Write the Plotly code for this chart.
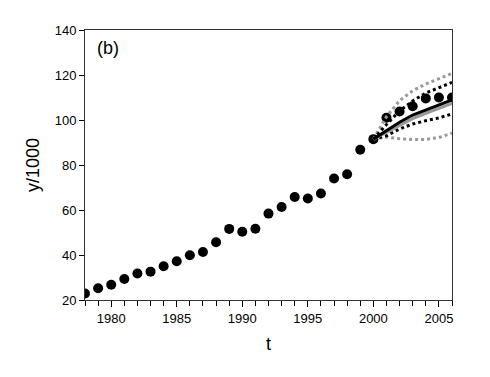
import plotly.graph_objects as go

# observed series (y/1000)
years = list(range(1978, 2007))
observed = [22.9, 25.2, 26.8, 29.3, 31.8, 32.6, 35.0, 37.2, 39.9, 41.3, 45.7,
            51.6, 50.3, 51.7, 58.4, 61.3, 65.8, 65.1, 67.3, 74.0, 75.9, 86.8,
            91.5, 101.0, 103.8, 106.1, 109.6, 110.0, 110.0]

# forecasts from 2000
fc_years = list(range(2000, 2007))
fc_mean_black = [91.5, 95.3, 99.0, 102.2, 104.4, 106.6, 108.9]
fc_mean_gray = [91.5, 94.5, 97.8, 100.6, 103.0, 105.3, 107.4]
band_black_hi = [91.5, 98.0, 104.0, 108.5, 112.0, 114.5, 116.7]
band_black_lo = [91.5, 93.0, 96.0, 98.2, 99.7, 100.9, 102.7]
band_gray_hi = [91.5, 101.5, 108.6, 113.0, 116.0, 118.2, 120.7]
band_gray_lo = [91.5, 92.4, 91.7, 91.3, 91.4, 92.2, 94.2]

x_ticks = [1980, 1985, 1990, 1995, 2000, 2005]
y_ticks = [20, 40, 60, 80, 100, 120, 140]

fig = go.Figure()
fig.add_trace(go.Scatter(x=years, y=observed, mode="markers",
                         marker=dict(color="black", size=10), cliponaxis=True))

fig.add_trace(go.Scatter(x=fc_years, y=band_gray_hi, mode="lines", line=dict(color="#999999", width=3, dash="dot")))
fig.add_trace(go.Scatter(x=fc_years, y=band_gray_lo, mode="lines", line=dict(color="#999999", width=3, dash="dot")))
fig.add_trace(go.Scatter(x=fc_years, y=band_black_hi, mode="lines", line=dict(color="black", width=3, dash="dot")))
fig.add_trace(go.Scatter(x=fc_years, y=band_black_lo, mode="lines", line=dict(color="black", width=3, dash="dot")))
fig.add_trace(go.Scatter(x=fc_years, y=fc_mean_gray, mode="lines", line=dict(color="#999999", width=3)))
fig.add_trace(go.Scatter(x=fc_years, y=fc_mean_black, mode="lines", line=dict(color="black", width=3)))

fig.add_annotation(x=1978.8, y=132, text="(b)", showarrow=False, xanchor="left",
                   font=dict(size=18, color="black"))

fig.update_layout(
    width=490,
    height=377,
    margin=dict(l=77, r=46, t=22, b=85),
    paper_bgcolor="#ffffff",
    plot_bgcolor="#ffffff",
    showlegend=False,
    font=dict(family="Liberation Sans, Arial, sans-serif", color="black", size=13),
)
fig.update_xaxes(
    range=[1978, 2006], tickvals=x_ticks, ticks="outside", ticklen=6, tickcolor="black",
    showgrid=False, zeroline=False, showline=True, linecolor="#333333", mirror=True,
    minor=dict(dtick=1, ticks="outside", ticklen=5, tickcolor="black", showgrid=False),
    title=dict(text="t", font=dict(size=18), standoff=12),
)
fig.update_yaxes(
    range=[20, 140], tickvals=y_ticks, ticks="outside", ticklen=5, tickcolor="black",
    showgrid=False, zeroline=False, showline=True, linecolor="#333333", mirror=True,
    title=dict(text="y/1000", font=dict(size=18), standoff=10),
)

fig.write_html("out.html")
